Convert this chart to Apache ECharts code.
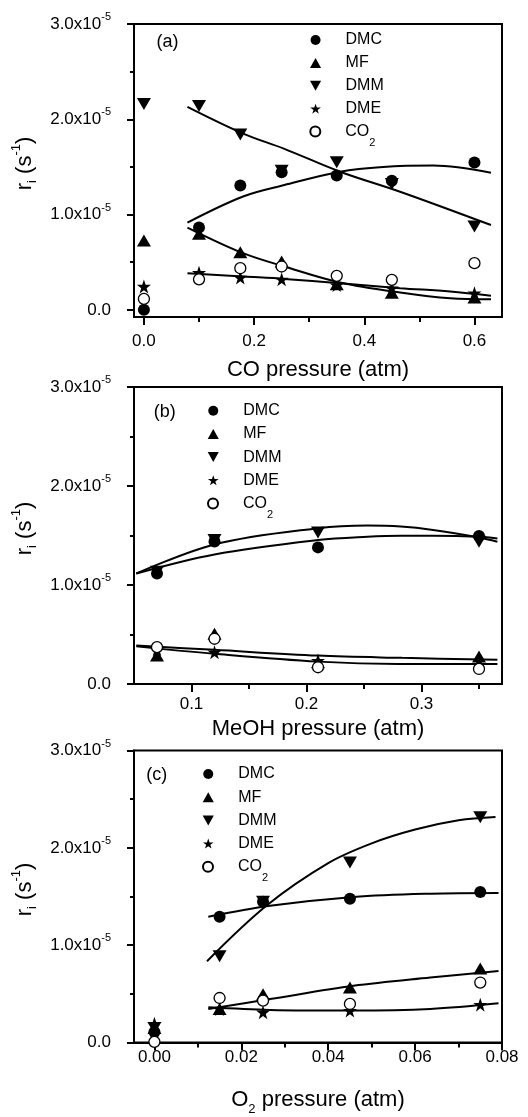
<!DOCTYPE html>
<html><head><meta charset="utf-8">
<script src="https://cdn.jsdelivr.net/npm/echarts@6/dist/echarts.min.js"></script>
<style>html,body{margin:0;padding:0;background:#fff}#c{width:528px;height:1117px}</style>
</head><body><div id="c"></div>
<script>
// ---------- data (rates in s^-1) ----------
const seriesNames = ['DMC', 'MF', 'DMM', 'DME', 'CO2'];

// Panel (a): CO pressure
const xA   = [0, 0.1, 0.175, 0.25, 0.35, 0.45, 0.6];
const dmcA = [0, 0.864e-5, 1.305e-5, 1.445e-5, 1.41e-5, 1.354e-5, 1.546e-5];
const mfA  = [0.728e-5, 0.80e-5, 0.605e-5, 0.507e-5, 0.27e-5, 0.18e-5, 0.13e-5];
const dmmA = [2.16e-5, 2.14e-5, 1.84e-5, 1.46e-5, 1.55e-5, 1.32e-5, 0.874e-5];
const dmeA = [0.245e-5, 0.39e-5, 0.34e-5, 0.32e-5, 0.26e-5, 0.228e-5, 0.175e-5];
const co2A = [0.115e-5, 0.32e-5, 0.437e-5, 0.455e-5, 0.357e-5, 0.315e-5, 0.49e-5];
const fitDmmA = [[0.079, 2.13e-5], [0.18, 1.85e-5], [0.255, 1.69e-5], [0.356, 1.45e-5], [0.465, 1.24e-5], [0.63, 0.89e-5]];
const fitDmcA = [[0.079, 0.916e-5], [0.18, 1.19e-5], [0.255, 1.31e-5], [0.356, 1.45e-5], [0.434, 1.50e-5], [0.525, 1.515e-5], [0.63, 1.44e-5]];
const fitMfA  = [[0.079, 0.864e-5], [0.18, 0.595e-5], [0.255, 0.455e-5], [0.356, 0.287e-5], [0.465, 0.182e-5], [0.556, 0.122e-5], [0.63, 0.112e-5]];
const fitDmeA = [[0.079, 0.385e-5], [0.18, 0.35e-5], [0.255, 0.325e-5], [0.356, 0.28e-5], [0.465, 0.228e-5], [0.556, 0.192e-5], [0.63, 0.147e-5]];

// Panel (b): MeOH pressure
const xB   = [0.07, 0.12, 0.21, 0.35];
const dmcB = [1.116e-5, 1.44e-5, 1.38e-5, 1.495e-5];
const mfB  = [0.287e-5, 0.508e-5, 0.22e-5, 0.277e-5];
const dmmB = [1.133e-5, 1.454e-5, 1.53e-5, 1.437e-5];
const dmeB = [0.35e-5, 0.321e-5, 0.237e-5, 0.237e-5];
const co2B = [0.372e-5, 0.457e-5, 0.169e-5, 0.152e-5];
const fitDmmB = [[0.052, 1.116e-5], [0.12, 1.41e-5], [0.21, 1.573e-5], [0.253, 1.6e-5], [0.282, 1.59e-5], [0.31, 1.556e-5], [0.35, 1.48e-5], [0.366, 1.437e-5]];
const fitDmcB = [[0.052, 1.116e-5], [0.12, 1.309e-5], [0.21, 1.454e-5], [0.253, 1.488e-5], [0.282, 1.498e-5], [0.31, 1.498e-5], [0.35, 1.488e-5], [0.366, 1.47e-5]];
const fitLow1B = [[0.052, 0.389e-5], [0.12, 0.345e-5], [0.21, 0.287e-5], [0.283, 0.264e-5], [0.366, 0.244e-5]];
const fitLow2B = [[0.052, 0.38e-5], [0.12, 0.305e-5], [0.21, 0.226e-5], [0.28, 0.203e-5], [0.366, 0.203e-5]];

// Panel (c): O2 pressure
const xC   = [0, 0.015, 0.025, 0.045, 0.075];
const dmcC = [0.108e-5, 1.292e-5, 1.445e-5, 1.478e-5, 1.546e-5];
const mfC  = [0.15e-5, 0.345e-5, 0.497e-5, 0.565e-5, 0.761e-5];
const dmmC = [0.15e-5, 0.887e-5, 1.445e-5, 1.85e-5, 2.313e-5];
const dmeC = [0.193e-5, 0.345e-5, 0.311e-5, 0.328e-5, 0.389e-5];
const co2C = [0.007e-5, 0.457e-5, 0.43e-5, 0.396e-5, 0.616e-5];
const fitDmcC = [[0.0124, 1.292e-5], [0.0266, 1.404e-5], [0.0458, 1.495e-5], [0.0635, 1.529e-5], [0.0792, 1.536e-5]];
const fitDmmC = [[0.0121, 0.835e-5], [0.0259, 1.41e-5], [0.04, 1.843e-5], [0.05, 2.046e-5], [0.06, 2.188e-5], [0.07, 2.283e-5], [0.0785, 2.317e-5]];
const fitMfC  = [[0.0124, 0.345e-5], [0.0266, 0.446e-5], [0.0458, 0.582e-5], [0.0635, 0.667e-5], [0.0792, 0.734e-5]];
const fitDmeC = [[0.0124, 0.362e-5], [0.0266, 0.335e-5], [0.0458, 0.328e-5], [0.0635, 0.345e-5], [0.0792, 0.403e-5]];

// tick values
const yMajorTicks = [0, 1e-5, 2e-5, 3e-5];
const yMinorTicks = [0.5e-5, 1.5e-5, 2.5e-5];
const xMajorA = [0, 0.2, 0.4, 0.6], xMinorA = [0.1, 0.3, 0.5];
const xMajorB = [0.1, 0.2, 0.3],    xMinorB = [0.15, 0.25, 0.35];
const xMajorC = [0, 0.02, 0.04, 0.06, 0.08], xMinorC = [0.01, 0.03, 0.05, 0.07];

// ---------- styling ----------
const FONT = 'Liberation Sans, Arial, sans-serif';
const TICK_FS = 17;
const NAME_FS = 22;
const LEG_FS = 16;
const BLACK = '#000';
const SYM = {
  DMC: { symbol: 'circle', size: 12, style: { color: BLACK } },
  MF:  { symbol: 'path://M5,0 L10,9 L0,9 Z', size: [14, 12], style: { color: BLACK } },
  DMM: { symbol: 'path://M0,0 L10,0 L5,9 Z', size: [14, 12], style: { color: BLACK } },
  DME: { symbol: 'path://M50,0 L61.8,35.1 L98.9,35.1 L68.9,57 L80.3,91.9 L50,70.1 L19.7,91.9 L31.1,57 L1.1,35.1 L38.2,35.1 Z', size: 14, style: { color: BLACK } },
  CO2: { symbol: 'circle', size: 11, style: { color: '#fff', borderColor: BLACK, borderWidth: 1.3 } }
};

const panels = [
  { top: 24, height: 293, yMin: -0.075e-5, xMin: -0.018, xMax: 0.65, xMaj: xMajorA, xMin2: xMinorA, dec: 1,
    name: '{n|CO pressure (atm)}', nameGap: 42, labelMargin: 16,
    xs: xA, ys: [dmcA, mfA, dmmA, dmeA, co2A], fits: [fitDmmA, fitDmcA, fitMfA, fitDmeA],
    legend: { cx: 315, y0: 40, dy: 22.9 }, tag: { text: '(a)', x: 167.5, y: 41.7 } },
  { top: 387, height: 297, yMin: 0, xMin: 0.05, xMax: 0.37, xMaj: xMajorB, xMin2: xMinorB, dec: 1,
    name: '{n|MeOH pressure (atm)}', nameGap: 34, labelMargin: 11.5,
    xs: xB, ys: [dmcB, mfB, dmmB, dmeB, co2B], fits: [fitDmmB, fitDmcB, fitLow1B, fitLow2B],
    legend: { cx: 212.7, y0: 410.7, dy: 23.2 }, tag: { text: '(b)', x: 164.7, y: 411.7 } },
  { top: 750.5, height: 295, yMin: 0, xMin: -0.0047, xMax: 0.08, xMaj: xMajorC, xMin2: xMinorC, dec: 2,
    name: '{n|O}{sub|2}{n| pressure (atm)}', nameGap: 46, labelMargin: 6,
    xs: xC, ys: [dmcC, mfC, dmmC, dmeC, co2C], fits: [fitDmcC, fitDmmC, fitMfC, fitDmeC],
    legend: { cx: 207.7, y0: 774, dy: 23.2 }, tag: { text: '(c)', x: 156.7, y: 775 } }
];

const grid = [], xAxis = [], yAxis = [], series = [], legend = [], graphic = [];
const axisLineStyle = { color: BLACK, width: 2 };

function yFmt(v) {
  if (Math.abs(v) < 1e-12) return '{a|0.0}';
  return '{a|' + (v * 1e5).toFixed(1) + 'x10}{b|-5}';
}

panels.forEach((p, g) => {
  grid.push({ left: 134, width: 368, top: p.top, height: p.height, show: true, borderColor: BLACK, borderWidth: 2, containLabel: false });
  xAxis.push({
    type: 'value', gridIndex: g, position: 'bottom', min: p.xMin, max: p.xMax,
    axisLine: { show: true, onZero: false, lineStyle: axisLineStyle },
    axisTick: { show: true, length: 8, lineStyle: { color: BLACK, width: 2 }, customValues: p.xMaj },
    axisLabel: { show: true, customValues: p.xMaj, formatter: v => v.toFixed(p.dec), color: BLACK, fontFamily: FONT, fontSize: TICK_FS, margin: p.labelMargin },
    splitLine: { show: false },
    name: p.name, nameLocation: 'middle', nameGap: p.nameGap,
    nameTextStyle: { color: BLACK, fontFamily: FONT,
      rich: { n: { fontSize: NAME_FS, lineHeight: 22, fontFamily: FONT, color: BLACK },
              sub: { fontSize: 13, lineHeight: 12, padding: [20, 0, 0, 0], fontFamily: FONT, color: BLACK } } }
  });
  xAxis.push({
    type: 'value', gridIndex: g, position: 'bottom', min: p.xMin, max: p.xMax,
    axisLine: { show: false, onZero: false },
    axisTick: { show: true, length: 5, lineStyle: { color: BLACK, width: 2 }, customValues: p.xMin2 },
    axisLabel: { show: false }, splitLine: { show: false }
  });
  yAxis.push({
    type: 'value', gridIndex: g, position: 'left', min: p.yMin, max: 3e-5,
    axisLine: { show: true, onZero: false, lineStyle: axisLineStyle },
    axisTick: { show: true, length: 7, lineStyle: { color: BLACK, width: 2 }, customValues: yMajorTicks },
    axisLabel: { show: true, customValues: yMajorTicks, formatter: yFmt, margin: 23,
      rich: { a: { fontSize: TICK_FS, lineHeight: 17, fontFamily: FONT, color: BLACK },
              b: { fontSize: 11, lineHeight: 11, padding: [0, 0, 14, 0], fontFamily: FONT, color: BLACK } } },
    splitLine: { show: false },
    name: '{r|r}{i|i}{r| (s}{s|-1}{r|)}', nameLocation: 'middle', nameRotate: 90, nameGap: 86,
    nameTextStyle: { color: BLACK, fontFamily: FONT, padding: [0, 0, 0, 14],
      rich: { r: { fontSize: NAME_FS, lineHeight: 22, fontFamily: FONT, color: BLACK },
              i: { fontSize: 13, lineHeight: 12, padding: [16, 0, 0, 0], fontFamily: FONT, color: BLACK },
              s: { fontSize: 13, lineHeight: 12, padding: [0, 0, 16, 0], fontFamily: FONT, color: BLACK } } }
  });
  yAxis.push({
    type: 'value', gridIndex: g, position: 'left', min: p.yMin, max: 3e-5,
    axisLine: { show: false, onZero: false },
    axisTick: { show: true, length: 4, lineStyle: { color: BLACK, width: 2 }, customValues: yMinorTicks },
    axisLabel: { show: false }, splitLine: { show: false }
  });

  p.fits.forEach((pts, k) => {
    series.push({ type: 'line', name: 'fit' + g + '_' + k, xAxisIndex: 2 * g, yAxisIndex: 2 * g,
      data: pts, smooth: 0.35, symbol: 'none', silent: true, z: 2,
      lineStyle: { color: BLACK, width: 2 } });
  });
  seriesNames.forEach((nm, k) => {
    const s = SYM[nm];
    series.push({ type: 'scatter', name: nm, xAxisIndex: 2 * g, yAxisIndex: 2 * g,
      data: p.xs.map((x, i) => [x, p.ys[k][i]]), symbol: s.symbol, symbolSize: s.size,
      itemStyle: Object.assign({ opacity: 1 }, s.style), z: 3, silent: true });
  });

  // legend: four plain rows, plus CO2 (subscript) as its own row
  const L = p.legend;
  legend.push({
    orient: 'vertical', left: L.cx - 5, top: L.y0 - LEG_FS / 2, padding: 0, itemGap: L.dy - LEG_FS,
    itemWidth: 50, itemHeight: 10, selectedMode: false,
    data: seriesNames.slice(0, 4).map(nm => ({ name: nm, icon: SYM[nm].symbol })),
    textStyle: { color: BLACK, fontFamily: FONT, fontSize: LEG_FS }
  });
  legend.push({
    orient: 'vertical', left: L.cx - 5.7, top: L.y0 + 4 * L.dy - 16.5, padding: 0,
    itemWidth: 50, itemHeight: 10, selectedMode: false,
    data: [{ name: 'CO2', icon: SYM.CO2.symbol }],
    formatter: () => '{c|CO}{s|2}',
    textStyle: { color: BLACK, fontFamily: FONT, fontSize: LEG_FS,
      rich: { c: { fontSize: LEG_FS, lineHeight: 16, fontFamily: FONT, color: BLACK },
              s: { fontSize: 11, lineHeight: 11, padding: [22, 0, 0, 0], fontFamily: FONT, color: BLACK } } }
  });

  graphic.push({ type: 'text', x: p.tag.x, y: p.tag.y, silent: true,
    style: { text: p.tag.text, align: 'center', verticalAlign: 'middle', fill: BLACK, font: '18px ' + FONT } });
});

const chart = echarts.init(document.getElementById('c'), null, { renderer: 'canvas' });
chart.setOption({ animation: false, backgroundColor: '#fff', grid, xAxis, yAxis, series, legend, graphic });
</script></body></html>
